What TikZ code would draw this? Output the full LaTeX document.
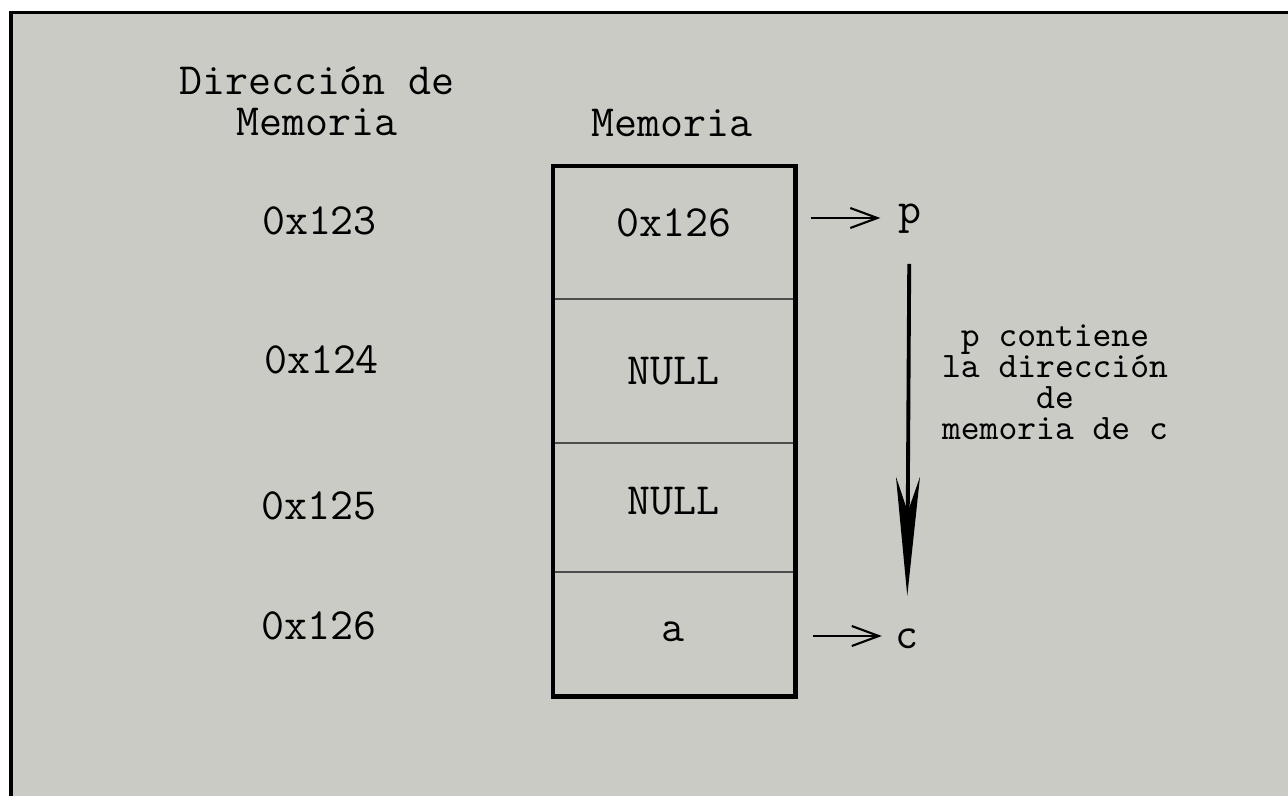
\documentclass[tikz,border=0pt]{standalone}
\usepackage{fontspec}
\usetikzlibrary{arrows.meta}
\definecolor{xgray}{RGB}{203,203,197}

\begin{document}
\begin{tikzpicture}
\tikzset{addr/.style={font=\ttfamily\fontsize{12.7}{11.1}\selectfont,inner sep=0pt}}
\tikzset{val/.style={addr}}
\tikzset{head/.style={font=\ttfamily\fontsize{12.7}{11.8}\selectfont,align=center,inner sep=0pt}}
\tikzset{note/.style={font=\ttfamily\fontsize{10.2}{8.8}\selectfont,align=center,inner sep=0pt}}
\tikzset{ptr/.style={-{Straight Barb[length=2.7mm,width=2mm]},line width=0.6pt}}
\tikzset{big/.style={-{Stealth[length=11.9mm,width=2.4mm,inset=3.5mm]},line width=1.1pt}}
\def \xl {5.53}
\def \xr {7.955}
% background and frame
\useasboundingbox (0,0) rectangle (12.88,7.96);
\fill[white] (0,0) rectangle (12.88,7.96);
\fill[xgray] (0.113,0) rectangle (12.88,7.835);
\draw[line width=1.1pt] (0.113,0) -- (0.113,7.835) -- (12.88,7.835);
% headers
\node[head] (dirhead) at (3.17,6.95) {Dirección de\\Memoria};
\node[addr] (memhead) at (6.72,6.735) {Memoria};
% addresses
\node[addr] (a123) at (3.195,5.755) {0x123};
\node[addr] (a124) at (3.215,4.36) {0x124};
\node[addr] (a125) at (3.19,2.90) {0x125};
\node[addr] (a126) at (3.19,1.70) {0x126};
% memory cells
\draw[line width=0.6pt,black!70] \foreach \y in {4.973,3.53,2.24} {(\xl,\y) -- (\xr,\y)};
\draw[line width=1.2pt] (\xl,0.995) rectangle (\xr,6.30);
\node[val] (v123) at (6.735,5.735) {0x126};
\node[val] (v124) at (6.735,4.245) {NULL};
\node[val] (v125) at (6.735,2.945) {NULL};
\node[val] (v126) at (6.73,1.64) {a};
% pointers
\node[addr,inner sep=0.17cm] (p) at (9.095,5.776) {p};
\node[addr,inner sep=0.13cm] (c) at (9.07,1.575) {c};
\coordinate (pfrom) at (8.11,5.78);
\coordinate (cfrom) at (8.13,1.60);
\draw[ptr] (pfrom) -- (pfrom -| p.west);
\draw[ptr] (cfrom) -- (cfrom -| c.west);
\draw[big,shorten <=0.13cm,shorten >=0.19cm] (p) -- (c);
\node[note] (note) at (10.55,4.135) {p contiene\\la dirección\\de\\memoria de c};
\end{tikzpicture}
\end{document}
